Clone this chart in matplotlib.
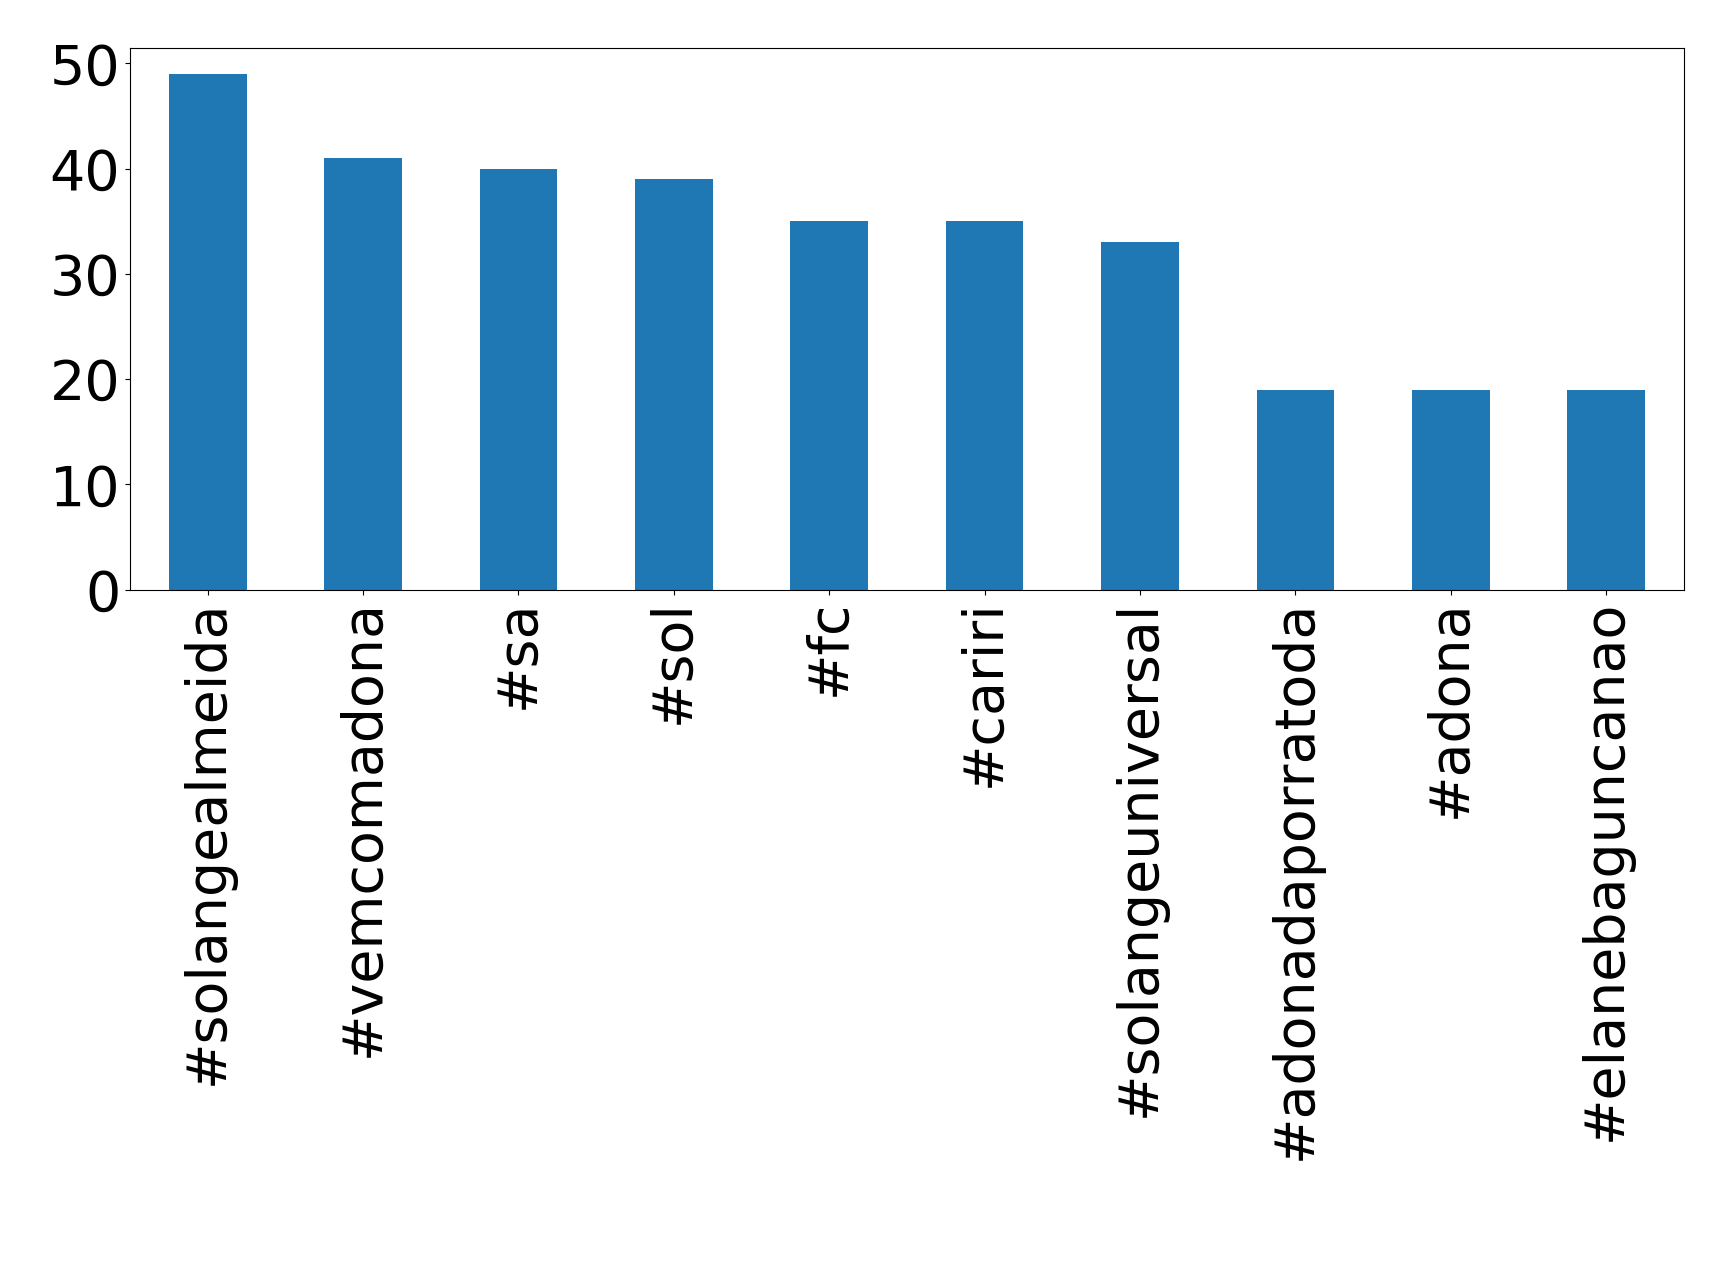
import matplotlib
matplotlib.use("Agg")
import matplotlib.pyplot as plt

labels = ["#solangealmeida", "#vemcomadona", "#sa", "#sol", "#fc", "#cariri",
          "#solangeuniversal", "#adonadaporratoda", "#adona", "#elanebaguncanao"]
values = [49, 41, 40, 39, 35, 35, 33, 19, 19, 19]

fig = plt.figure(figsize=(17.19, 12.68), dpi=100)
ax = fig.add_axes([0.0756, 0.535, 0.904, 0.427])
ax.bar(range(len(values)), values, width=0.5, color="#1f77b4")
ax.set_xticks(range(len(values)))
ax.set_xticklabels(labels, rotation=90, fontsize=40)
ax.tick_params(axis="y", labelsize=40)
ax.set_xlim(-0.5, len(values) - 0.5)
ax.set_ylim(0, 49 * 1.05)
ax.set_yticks([0, 10, 20, 30, 40, 50])
fig.savefig("out.png", dpi=100)
